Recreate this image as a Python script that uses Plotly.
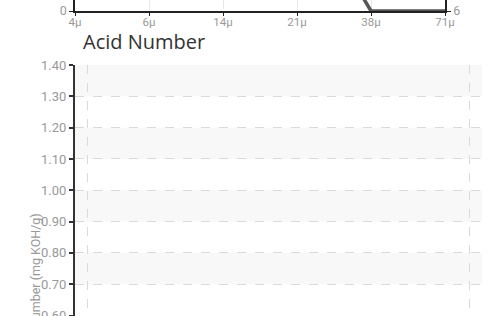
import plotly.graph_objects as go

# ---- data ----
particle_sizes = ["4μ", "6μ", "14μ", "21μ", "38μ", "71μ"]
particle_counts = [60, 35, 18, 9.5, 0, 0]

acid_dates = ["Sample 1", "Sample 2"]
acid_values = [0.35, 0.38]
acid_ticks = [0.60, 0.70, 0.80, 0.90, 1.00, 1.10, 1.20, 1.30, 1.40]

W, H = 498, 316
def px_x(p): return p / W
def px_y(p): return 1 - p / H

FAM = "Roboto, sans-serif"
TOP_FONT = dict(family=FAM, size=11.5, color="#999999")
Y_FONT = dict(family=FAM, size=13, color="#999999")

fig = go.Figure()

# top chart (particle count) – only its bottom strip is visible
fig.add_trace(go.Scatter(
    x=list(range(len(particle_sizes))), y=particle_counts, mode="lines",
    line=dict(color="#555555", width=3.5), xaxis="x", yaxis="y", showlegend=False,
    hoverinfo="skip"))
fig.add_trace(go.Scatter(
    x=list(range(len(particle_sizes))), y=[6] * len(particle_sizes), mode="lines",
    line=dict(color="rgba(0,0,0,0)", width=0), xaxis="x", yaxis="y3", showlegend=False,
    hoverinfo="skip"))

# bottom chart (acid number)
fig.add_trace(go.Scatter(
    x=[0, 1], y=acid_values, mode="lines+markers",
    line=dict(color="#555555", width=3), xaxis="x2", yaxis="y2", showlegend=False,
    hoverinfo="skip"))

top_range_max = 9.5 * 11 / 125.0

fig.update_layout(
    template="none",
    width=W, height=H,
    margin=dict(l=0, r=0, t=0, b=0, pad=0),
    paper_bgcolor="white", plot_bgcolor="rgba(0,0,0,0)",
    xaxis=dict(
        domain=[px_x(75), px_x(445)], anchor="y", automargin=False,
        range=[0, len(particle_sizes) - 1],
        tickvals=list(range(len(particle_sizes))), ticktext=particle_sizes,
        showline=True, linecolor="#222222", linewidth=1.5,
        ticks="outside", ticklen=3, tickcolor="#222222",
        ticklabelstandoff=-4, ticklabeloverflow="allow",
        showgrid=True, gridcolor="#e6e6e6", griddash="dash",
        tickfont=TOP_FONT, zeroline=False, fixedrange=True),
    yaxis=dict(
        domain=[px_y(11), 1], anchor="x", automargin=False,
        range=[0, top_range_max], tickvals=[0], ticktext=["0"],
        showline=True, linecolor="#222222", linewidth=1.5,
        ticks="outside", ticklen=4, tickcolor="#222222", ticklabeloverflow="allow",
        showgrid=False, zeroline=False, tickfont=dict(TOP_FONT, size=12.5)),
    yaxis3=dict(
        domain=[px_y(11), 1], anchor="x", overlaying="y", side="right", automargin=False,
        range=[6, 7], tickvals=[6], ticktext=["6"],
        showline=True, linecolor="#222222", linewidth=1.5,
        ticks="outside", ticklen=4, tickcolor="#222222", ticklabeloverflow="allow",
        showgrid=False, zeroline=False, tickfont=dict(TOP_FONT, size=12.5)),
    xaxis2=dict(
        domain=[px_x(75), px_x(482)], anchor="y2", automargin=False,
        range=[-0.0314, 1.034], tickvals=[0, 1], showticklabels=False,
        showgrid=True, gridcolor="#dadada", griddash="dash", gridwidth=1,
        showline=False, zeroline=False, ticks=""),
    yaxis2=dict(
        domain=[0, px_y(65)], anchor="x2", automargin=False,
        range=[0.5985, 1.4], tickvals=acid_ticks,
        ticktext=[f"{v:.2f}" for v in acid_ticks],
        showline=True, linecolor="#333333", linewidth=2,
        ticks="outside", ticklen=4, tickcolor="#333333", tickwidth=2,
        ticklabeloverflow="allow",
        showgrid=True, gridcolor="#dadada", griddash="dash", gridwidth=1,
        zeroline=False, tickfont=Y_FONT),
    shapes=[
        dict(type="rect", xref="x2 domain", yref="y2", x0=0, x1=1, y0=a, y1=a + 0.1,
             fillcolor="#f8f8f8", line=dict(width=0), layer="below")
        for a in [1.3, 1.1, 0.9, 0.7]
    ],
    annotations=[
        dict(text="Acid Number", xref="paper", yref="paper", x=px_x(81), y=px_y(41),
             xanchor="left", yanchor="middle", showarrow=False,
             font=dict(family="Open Sans, Noto Sans, sans-serif", size=20, color="#333333")),
        dict(text="Acid Number (mg KOH/g)", xref="paper", yref="paper",
             x=px_x(35), y=px_y(285), xanchor="center", yanchor="middle",
             textangle=-90, showarrow=False,
             font=dict(family=FAM, size=12.5, color="#999999")),
    ],
)

fig.write_html("out.html", config={"displayModeBar": False},
               post_script="document.body.style.margin='0';document.body.style.overflow='hidden';")
